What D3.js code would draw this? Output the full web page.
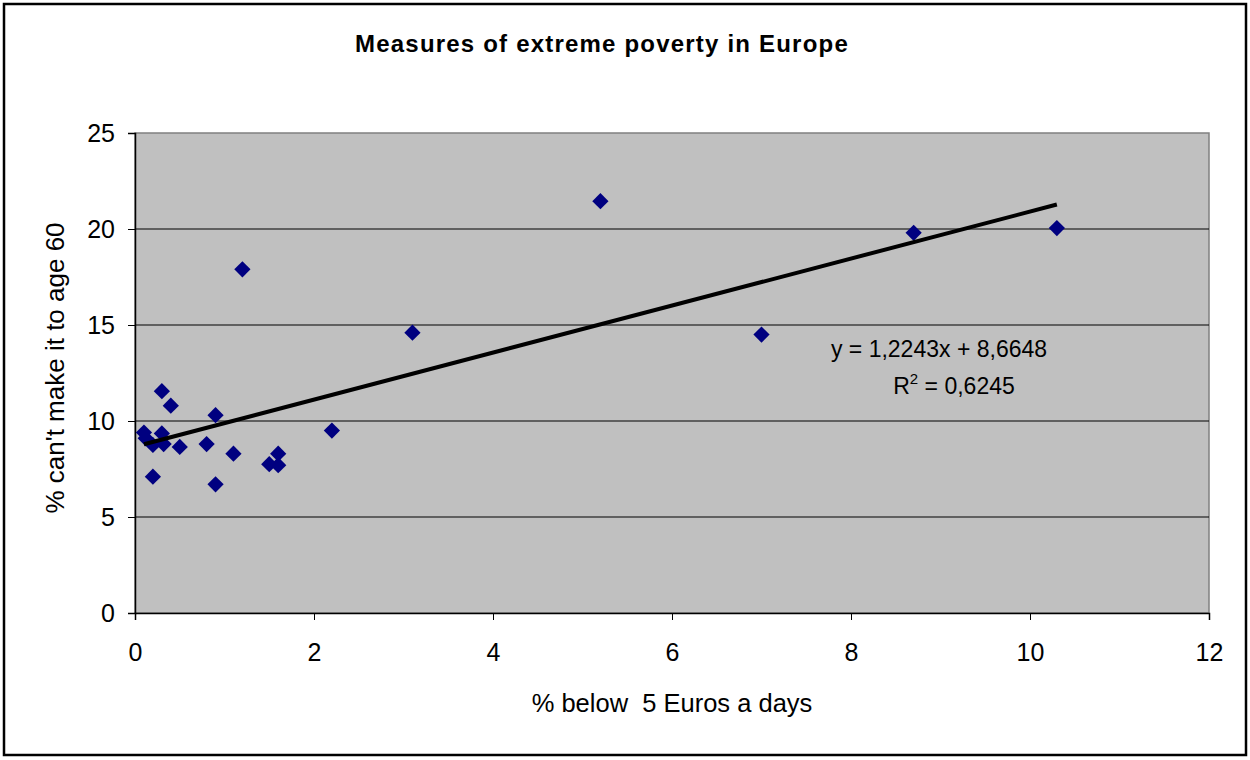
<!DOCTYPE html>
<html><head><meta charset="utf-8">
<script src="https://cdn.jsdelivr.net/npm/d3@7"></script>
<style>body{margin:0;background:#fff}svg{display:block}text{font-family:"Liberation Sans",Arial,sans-serif}</style>
</head><body><svg id="c" width="1250" height="760"></svg>
<script>
const xValues = [0.3,0.4,0.9,0.1,0.12,0.3,0.2,0.32,0.5,0.8,1.1,1.6,1.5,1.6,2.2,0.2,0.9,1.2,3.1,5.2,7.0,8.7,10.3];
const yValues = [11.55,10.8,10.3,9.4,9.1,9.35,8.75,8.8,8.65,8.8,8.3,8.3,7.75,7.7,9.5,7.1,6.7,17.9,14.6,21.45,14.5,19.8,20.05];
const xTicks = [0,2,4,6,8,10,12];
const yTicks = [0,5,10,15,20,25];
const slope = 1.2243, intercept = 8.6648;
const titleText = "Measures of extreme poverty in Europe";
const xLabel = "% below  5 Euros a days";
const yLabel = "% can't make it to age 60";
const eqText = "y = 1,2243x + 8,6648";

const svg = d3.select("#c");
const L=135,R=1209,T=133,B=613;
const x = d3.scaleLinear().domain([0,12]).range([L,R]);
const y = d3.scaleLinear().domain([0,25]).range([B,T]);

svg.append("rect").attr("x",4).attr("y",4).attr("width",1242).attr("height",751).attr("fill","#fff").attr("stroke","#000").attr("stroke-width",2.5);
svg.append("rect").attr("x",L).attr("y",T).attr("width",R-L).attr("height",B-T).attr("fill","#c0c0c0").attr("stroke","#808080").attr("stroke-width",1.5);

svg.append("g").selectAll("line").data(yTicks.filter(d=>d>0&&d<25)).join("line")
  .attr("x1",L).attr("x2",R).attr("y1",d=>y(d)).attr("y2",d=>y(d)).attr("stroke","#000").attr("stroke-width",1);

const xa = svg.append("g").attr("transform",`translate(0,${B})`).call(d3.axisBottom(x).tickValues(xTicks).tickSize(7).tickPadding(23).tickFormat(d3.format("d")));
const ya = svg.append("g").attr("transform",`translate(${L},0)`).call(d3.axisLeft(y).tickValues(yTicks).tickSize(7).tickPadding(13).tickFormat(d3.format("d")));
[xa,ya].forEach(a=>{a.select(".domain").attr("stroke","#000").attr("stroke-width",1.5);
  a.selectAll(".tick line").attr("stroke","#000");
  a.selectAll("text").attr("font-size",25).attr("fill","#000").style("font-family",'"Liberation Sans",Arial,sans-serif');});

const pts = xValues.map((v,i)=>({x:v,y:yValues[i]}));
svg.append("g").selectAll("path").data(pts).join("path")
  .attr("d",d3.symbol().type(d3.symbolSquare).size(132))
  .attr("transform",d=>`translate(${x(d.x)},${y(d.y)}) rotate(45)`)
  .attr("fill","#000080");

const xmin=d3.min(xValues), xmax=d3.max(xValues);
svg.append("line").attr("x1",x(xmin)).attr("y1",y(slope*xmin+intercept)).attr("x2",x(xmax)).attr("y2",y(slope*xmax+intercept))
  .attr("stroke","#000").attr("stroke-width",4);

svg.append("text").attr("x",602).attr("y",52).attr("text-anchor","middle").attr("font-size",24).attr("font-weight","bold").attr("letter-spacing",1.2).text(titleText);
svg.append("text").attr("x",672).attr("y",712).attr("text-anchor","middle").attr("font-size",25.5).style("white-space","pre").text(xLabel);
svg.append("text").attr("transform","translate(64,368) rotate(-90)").attr("text-anchor","middle").attr("font-size",26).text(yLabel);
svg.append("text").attr("x",939).attr("y",357).attr("text-anchor","middle").attr("font-size",23).text(eqText);
const r2 = svg.append("text").attr("x",954).attr("y",394).attr("text-anchor","middle").attr("font-size",23);
r2.append("tspan").text("R");
r2.append("tspan").attr("font-size",15).attr("dy",-10).text("2");
r2.append("tspan").attr("dy",10).text(" = 0,6245");
</script></body></html>
